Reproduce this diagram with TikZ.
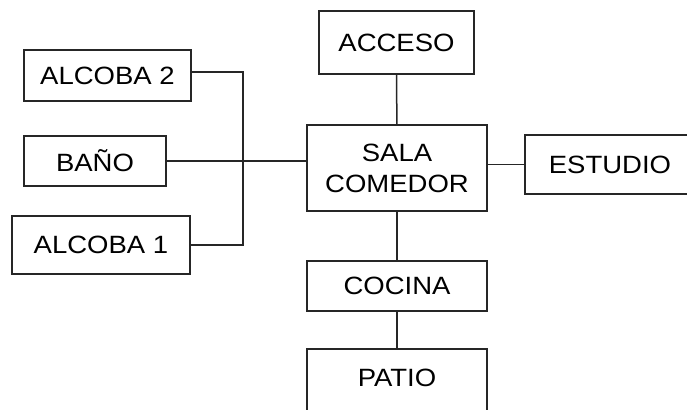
\documentclass[tikz,border=0pt]{standalone}
\usepackage{fontspec}
\setmainfont{Liberation Sans}[FakeStretch=1.1]
\begin{document}
\begin{tikzpicture}[x=1pt,y=-1pt,
  line/.style={draw=black!85, line width=1.5pt},
  room/.style={line, rectangle, inner sep=0pt, align=center,
    font=\fontsize{25}{31}\selectfont},
  openroom/.style={rectangle, inner sep=0pt, align=center,
    font=\fontsize{25}{31}\selectfont}]
\useasboundingbox (0,0) rectangle (687,409);
\node[room, minimum width=167pt, minimum height=51pt] (alc2) at (107.5,75.5) {ALCOBA 2};
\node[room, minimum width=142pt, minimum height=50pt] (bano) at (95,161) {BAÑO};
\node[room, minimum width=178pt, minimum height=58pt] (alc1) at (101,245) {ALCOBA 1};
\node[room, minimum width=180pt, minimum height=86pt] (sala) at (397,168) {SALA\\COMEDOR};
\node[room, minimum width=155pt, minimum height=63pt] (acceso) at (396.5,42.5) {ACCESO};
\node[room, minimum width=180pt, minimum height=50pt] (cocina) at (397,286) {COCINA};
\node[openroom, minimum width=170pt, minimum height=59pt] (estudio) at (610,164.5) {ESTUDIO};
\node[openroom, minimum width=180pt, minimum height=58pt] (patio) at (397,378) {PATIO};
% open-sided boxes cut by the picture edge
\draw[line] ([xshift=10pt]estudio.north east) -- (estudio.north west) -- (estudio.south west) -- ([xshift=10pt]estudio.south east);
\draw[line] ([yshift=-10pt]patio.south west) -- (patio.north west) -- (patio.north east) -- ([yshift=-10pt]patio.south east);
% bus on the left
\coordinate (bus) at (243,0);
\draw[line] (alc2.east |- 0,72) -- (bus |- 0,72) -- (bus |- alc1.east) -- (alc1.east);
\draw[line] (bano.east) -- (sala.west |- bano.east);
% central column
\draw[line] (acceso) -- (sala);
\draw[line] (sala) -- (cocina);
\draw[line] (cocina) -- (patio.north);
\draw[line] (sala.east |- estudio.west) -- (estudio.west);
\end{tikzpicture}
\end{document}
